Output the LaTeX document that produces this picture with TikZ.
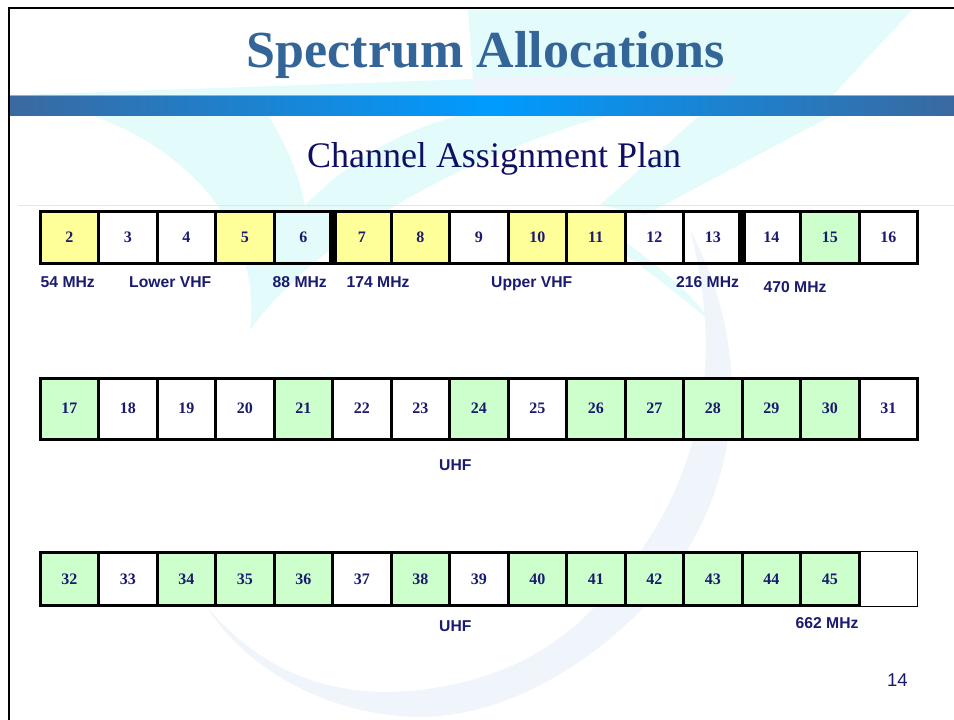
\documentclass[tikz,border=0pt]{standalone}
\usepackage{fontspec}
\setmainfont{Liberation Serif}
\setsansfont{Liberation Sans}
\definecolor{navy}{RGB}{26,26,110}
\definecolor{titleblue}{RGB}{52,101,153}
\definecolor{subnavy}{RGB}{15,15,100}
\definecolor{cyanw}{RGB}{228,251,252}
\definecolor{lavw}{RGB}{240,244,251}
\definecolor{yel}{RGB}{255,255,153}
\definecolor{grn}{RGB}{204,255,204}
\definecolor{bardark}{RGB}{58,105,160}
\definecolor{barbright}{RGB}{0,155,255}
\definecolor{barline}{RGB}{120,185,235}
\definecolor{rulegreen}{RGB}{215,238,215}
\begin{document}
\begin{tikzpicture}[x=1pt,y=-1pt,
  cell/.style={draw=black,line width=3pt,minimum width=58.5pt,inner sep=0pt,outer sep=0pt,
    font=\bfseries\fontsize{16}{16}\selectfont,text=navy},
  rowa/.style={cell,minimum height=52pt},
  rowb/.style={cell,minimum height=61pt},
  rowc/.style={cell,minimum height=53.5pt},
  lab/.style={font=\sffamily\bfseries\fontsize{15.7}{16}\selectfont,text=navy,anchor=base west,inner sep=0pt},
  sep/.style={line width=8pt,black}]
\useasboundingbox (0,0) rectangle (954,720);
\fill[white] (0,0) rectangle (954,720);
% ---- watermark ----
\fill[cyanw] (468,10) -- (912,10) -- (833,95) -- (474,95) -- cycle;
\fill[cyanw] (18,95) -- (474,79) -- (474,95) -- cycle;
\fill[lavw] (474,77) -- (739,75) -- (718,95) -- (474,95) -- cycle;
\fill[cyanw] (91,115) .. controls (190,150) and (262,230) .. (250,330)
  .. controls (300,260) and (420,170) .. (608,115) -- cycle;
\fill[white] (268,115) .. controls (290,150) and (300,180) .. (305,205)
  .. controls (350,160) and (400,130) .. (462,115) -- cycle;
\fill[cyanw] (700,115) -- (833,115) -- (645,215) -- (600,205) -- cycle;
\fill[cyanw] (612,232) .. controls (650,260) and (690,290) .. (712,323)
  .. controls (680,295) and (640,265) .. (605,240) -- cycle;
\fill[lavw] (690,230) .. controls (760,360) and (745,520) .. (620,630)
  .. controls (540,700) and (460,722) .. (400,716)
  .. controls (310,708) and (240,660) .. (207,607)
  .. controls (260,670) and (330,700) .. (420,690)
  .. controls (500,680) and (560,650) .. (610,590)
  .. controls (690,500) and (730,380) .. (690,230) -- cycle;
% ---- frame, bar, rule ----
\draw[line width=2.5pt] (9,720) -- (9,8) -- (954,8);
\shade[left color=bardark,right color=barbright] (10,95) rectangle (490,115);
\shade[left color=barbright,right color=bardark] (490,95) rectangle (954,115);
\draw[barline,line width=1pt] (10,95.5) -- (954,95.5);
\draw[rulegreen,line width=1pt] (18,205) -- (954,205);
% ---- titles ----
\node[anchor=base,inner sep=0pt,font=\bfseries\fontsize{52}{52}\selectfont,text=titleblue] (title) at (486,67) {Spectrum Allocations};
\node[anchor=base,inner sep=0pt,font=\fontsize{36}{36}\selectfont,text=subnavy] (subtitle) at (494,167) {Channel Assignment Plan};
% ---- row 1 ----
\foreach \n/\c [count=\k from 0] in {2/yel,3/none,4/none,5/yel,6/none,7/yel,8/yel,9/none,10/yel,11/yel,12/none,13/none,14/none,15/grn,16/none}
  \node[rowa,fill=\c] (c\n) at (69.25+58.5*\k,237) {\n};
\draw[sep] (c6.north east) -- (c6.south east);
\draw[sep] (c13.north east) -- (c13.south east);
% ---- row 2 ----
\foreach \n/\c [count=\k from 0] in {17/grn,18/none,19/none,20/none,21/grn,22/none,23/none,24/grn,25/none,26/grn,27/grn,28/grn,29/grn,30/grn,31/none}
  \node[rowb,fill=\c] (c\n) at (69.25+58.5*\k,408.5) {\n};
% ---- row 3 ----
\node[draw=black,line width=1pt,minimum width=58.5pt,minimum height=54.5pt,inner sep=0pt,outer sep=0pt] (cx) at (888.25,579) {};
\foreach \n/\c [count=\k from 0] in {32/grn,33/none,34/grn,35/grn,36/grn,37/none,38/grn,39/none,40/grn,41/grn,42/grn,43/grn,44/grn,45/grn}
  \node[rowc,fill=\c] (c\n) at (69.25+58.5*\k,579) {\n};
% ---- labels ----
\node[lab] (l54) at (40.5,287) {54 MHz};
\node[lab] (llow) at (129,287) {Lower VHF};
\node[lab] (l88) at (272.5,287) {88 MHz};
\node[lab] (l174) at (346.5,287) {174 MHz};
\node[lab] (lup) at (491,287) {Upper VHF};
\node[lab] (l216) at (676,287) {216 MHz};
\node[lab] (l470) at (763.5,292.5) {470 MHz};
\node[lab] (luhfa) at (439,470) {UHF};
\node[lab] (luhfb) at (439,631.5) {UHF};
\node[lab] (l662) at (795.5,628.5) {662 MHz};
\node[anchor=base west,inner sep=0pt,font=\sffamily\fontsize{18.5}{19}\selectfont,text=navy] (page) at (887,686.5) {14};
\end{tikzpicture}
\end{document}
